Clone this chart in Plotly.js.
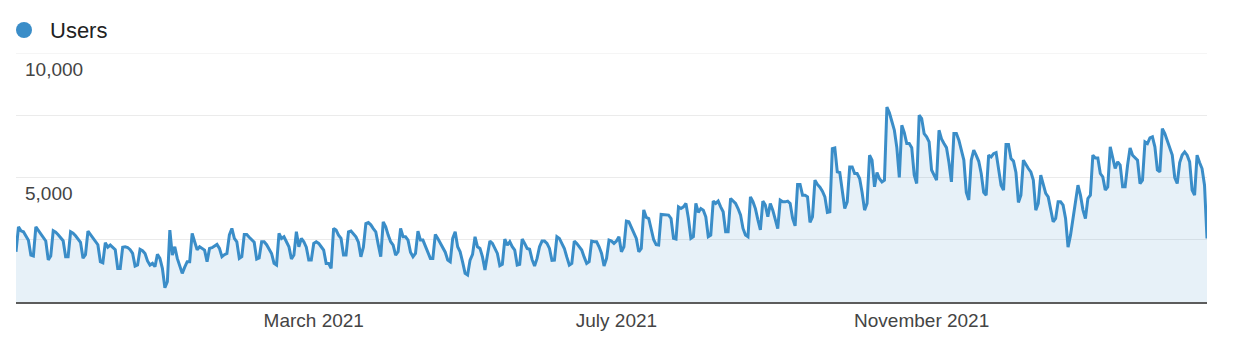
<!DOCTYPE html>
<html>
<head>
<meta charset="utf-8">
<script src="https://cdn.plot.ly/plotly-3.0.1.min.js"></script>
<style>
  html, body { margin: 0; padding: 0; background: #fff; }
  #chart { width: 1244px; height: 354px; }
</style>
</head>
<body>
<div id="chart"></div>
<script>
// ---- data (daily users, first day = startDate) ----
const startDate = '2020-11-01';
const seriesName = 'Users';
const users = [
  2017, 3020, 2860, 2820, 2650, 2480, 1880,
  1845, 3020, 2880, 2780, 2620, 2450, 1690,
  1845, 2860, 2800, 2700, 2560, 2460, 1820,
  1817, 2820, 2760, 2660, 2520, 2400, 1760,
  1900, 2847, 2700, 2560, 2450, 2300, 1620,
  1577, 2378, 2200, 2285, 2190, 2100, 1350,
  1350, 2200, 2220, 2190, 2100, 1950, 1443,
  1484, 2112, 2060, 1950, 1650, 1484, 1550,
  1417, 1913, 1750, 1350, 574, 815, 2887,
  1885, 2218, 1751, 1400, 1150, 1400, 1617,
  1617, 2753, 2418, 2100, 2218, 2150, 2085,
  1617, 2152, 2180, 2250, 2312, 2152, 1817,
  1900, 1951, 2700, 2954, 2553, 2420, 1751,
  1817, 2713, 2713, 2600, 2500, 2400, 1724,
  1770, 2420, 2420, 2300, 2150, 1950, 1550,
  1484, 2753, 2553, 2620, 2420, 2218, 1724,
  1885, 2820, 2218, 2553, 2420, 2200, 1684,
  1684, 2352, 2420, 2352, 2218, 2085, 1550,
  1550, 1350, 2954, 2887, 2686, 2553, 1885,
  1885, 2820, 2850, 2753, 2620, 2400, 1817,
  2200, 3154, 3190, 3100, 2950, 2820, 2300,
  1817, 3220, 3020, 2686, 2420, 2285, 1885,
  2017, 2954, 2620, 2620, 2486, 2000, 1817,
  1951, 2847, 2486, 2486, 2218, 2000, 1751,
  1751, 2713, 2553, 2352, 2218, 2000, 1684,
  1617, 2553, 2820, 2218, 2017, 1600, 1150,
  1083, 1684, 1911, 2620, 2218, 2152, 1817,
  1283, 1885, 2446, 2352, 2150, 1950, 1457,
  1510, 2526, 2285, 2420, 2218, 2085, 1484,
  1510, 2526, 2352, 2150, 2120, 1700, 1444,
  1751, 2218, 2446, 2446, 2352, 2150, 1670,
  1684, 2620, 2553, 2352, 2150, 1800, 1484,
  1550, 2446, 2352, 2218, 2085, 1800, 1550,
  1617, 2446, 2420, 2420, 2218, 1951, 1444,
  1751, 2486, 2446, 2352, 2450, 2620, 2017,
  2218, 3248, 3220, 3020, 2820, 2553, 2017,
  2152, 3700, 3400, 3355, 2954, 2500, 2300,
  2285, 3516, 3516, 3516, 3490, 3355, 2553,
  2526, 3823, 3756, 3823, 3957, 3355, 2553,
  2620, 3957, 3600, 3756, 3690, 3423, 2620,
  2686, 4050, 3957, 4050, 3823, 3623, 2820,
  2820, 4158, 4050, 3960, 3756, 3500, 2954,
  2686, 2620, 4223, 4030, 3750, 3300, 2900,
  4050, 3890, 3423, 3957, 3690, 3300, 2950,
  4090, 4023, 4023, 4050, 3957, 3355, 3060,
  4720, 4720, 4290, 4290, 4223, 3200, 3423,
  4892, 4720, 4610, 4450, 4223, 3596, 3623,
  6163, 6190, 5225, 5200, 4424, 3756, 4023,
  5425, 5425, 5160, 5160, 4960, 4400, 3690,
  3957, 5895, 5694, 4624, 5200, 4950, 4824,
  4890, 7832, 7600, 7250, 6900, 6200, 5000,
  7098, 6800, 6364, 6364, 6200, 5100, 4760,
  7499, 7366, 6765, 6630, 6430, 5300, 5093,
  4892, 6897, 6550, 6364, 6200, 5600, 4824,
  6765, 6765, 6500, 6095, 5700, 4400, 4100,
  5700, 6095, 5890, 5650, 5160, 4400, 4290,
  5895, 5827, 5960, 6003, 5300, 4692, 4491,
  6324, 6324, 5760, 5660, 5200, 4000, 4290,
  5694, 5494, 5360, 5225, 4900, 3690, 3957,
  5093, 4760, 4360, 4223, 3756, 3220, 3356,
  4023, 4023, 3890, 3356, 2200, 2686, 3423,
  4158, 4692, 4290, 3700, 3350, 4158, 4290,
  5895, 5787, 5787, 5160, 5025, 4500, 4624,
  6230, 5827, 5360, 5627, 5494, 4624, 4624,
  5500, 6190, 5895, 5800, 5694, 4760, 4892,
  6430, 6364, 6590, 6630, 6230, 5300, 5225,
  6965, 6765, 6500, 6230, 5900, 5000, 4760,
  5600, 5900, 6028, 5895, 5627, 4491, 4290,
  5895, 5600, 5360, 4692, 2553
];
const xTickDates = ['2021-03-01', '2021-07-01', '2021-11-01'];
const xTickLabels = ['March 2021', 'July 2021', 'November 2021'];
const yTickVals = [0, 2500, 5000, 7500, 10000];
const yTickLabels = ['', '', '5,000', '', '10,000'];
const yMax = 10000;

// ---- build date categories ----
const t0 = Date.parse(startDate + 'T00:00:00Z');
const dates = users.map((_, i) => new Date(t0 + i * 86400000).toISOString().slice(0, 10));

const lineColor = '#3a8dc8';
const gridColor = '#ebebeb';
const fontFamily = 'Arial, "Liberation Sans", sans-serif';

const trace = {
  type: 'scatter',
  mode: 'lines',
  name: seriesName,
  x: dates,
  y: users,
  line: { color: lineColor, width: 3, shape: 'linear' },
  fill: 'tozeroy',
  fillcolor: 'rgba(58,141,200,0.12)',
  hoverinfo: 'skip',
  showlegend: false
};

const layout = {
  width: 1244,
  height: 354,
  margin: { l: 16, r: 37, t: 53, b: 52, pad: 0 },
  paper_bgcolor: '#ffffff',
  plot_bgcolor: '#ffffff',
  font: { family: fontFamily, color: '#444' },
  showlegend: false,
  xaxis: {
    type: 'date',
    range: [dates[0], dates[dates.length - 1]],
    tickvals: xTickDates,
    ticktext: xTickLabels,
    tickfont: { size: 19, color: '#444', family: fontFamily },
    showgrid: false,
    zeroline: false,
    showline: true,
    linecolor: '#5c5c5c',
    linewidth: 2,
    ticks: '',
    fixedrange: true
  },
  yaxis: {
    range: [0, yMax],
    tickvals: yTickVals,
    ticktext: yTickLabels,
    tickfont: { size: 19, color: '#444', family: fontFamily },
    showgrid: true,
    gridcolor: gridColor,
    gridwidth: 1,
    zeroline: false,
    showline: false,
    ticks: '',
    ticklabelposition: 'inside',
    ticklabelstandoff: 6,
    ticklabelshift: 16,
    fixedrange: true
  },
  shapes: [
    {
      type: 'line',
      xref: 'paper', yref: 'y',
      x0: 0, x1: 1, y0: yMax, y1: yMax,
      line: { color: gridColor, width: 1 },
      layer: 'below'
    },
    {
      type: 'circle',
      xref: 'paper', yref: 'paper',
      xsizemode: 'pixel', ysizemode: 'pixel',
      xanchor: 0, yanchor: 1,
      x0: 0, x1: 16, y0: 15, y1: 31,
      fillcolor: lineColor,
      line: { width: 0 }
    }
  ],
  annotations: [
    {
      text: seriesName,
      xref: 'paper', yref: 'paper',
      x: 0, y: 1,
      xanchor: 'left', yanchor: 'middle',
      xshift: 32, yshift: 23,
      showarrow: false,
      font: { size: 22, color: '#222', family: fontFamily }
    }
  ]
};

Plotly.newPlot('chart', [trace], layout, { staticPlot: true, displayModeBar: false });
</script>
</body>
</html>
